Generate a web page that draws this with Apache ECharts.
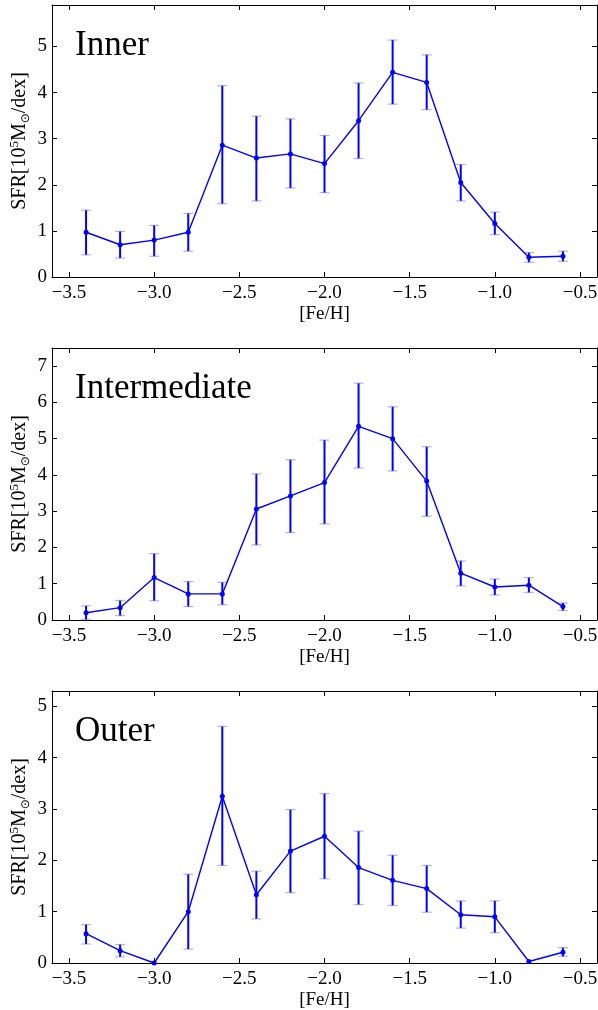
<!DOCTYPE html>
<html>
<head>
<meta charset="utf-8">
<script src="https://cdn.jsdelivr.net/npm/echarts@6/dist/echarts.min.js"></script>
<style>
    html, body { margin: 0; padding: 0; background: #fff; }
    #chart1 { width: 598px; height: 1010px; }
</style>
</head>
<body>
<div id="chart1"></div>
<script>
// [Fe/H] bins
const feh = [-3.4, -3.2, -3.0, -2.8, -2.6, -2.4, -2.2, -2.0, -1.8, -1.6, -1.4, -1.2, -1.0, -0.8, -0.6]
const xTicks = [-3.5, -3.0, -2.5, -2.0, -1.5, -1.0, -0.5]

// Inner
const innerSFR = [0.97, 0.70, 0.80, 0.97, 2.86, 2.58, 2.67, 2.46, 3.39, 4.44, 4.22, 2.05, 1.16, 0.43, 0.45]
const innerLow = [0.48, 0.41, 0.45, 0.56, 1.59, 1.65, 1.93, 1.83, 2.57, 3.75, 3.63, 1.65, 0.92, 0.32, 0.34]
const innerHigh = [1.45, 0.99, 1.12, 1.38, 4.15, 3.49, 3.43, 3.07, 4.21, 5.14, 4.82, 2.44, 1.41, 0.53, 0.56]
const innerTicks = [0, 1, 2, 3, 4, 5]

// Intermediate
const intermSFR = [0.20, 0.34, 1.17, 0.72, 0.72, 3.06, 3.42, 3.79, 5.34, 5.00, 3.83, 1.29, 0.91, 0.96, 0.37]
const intermLow = [0.01, 0.12, 0.53, 0.37, 0.42, 2.07, 2.41, 2.65, 4.19, 4.11, 2.86, 0.94, 0.69, 0.76, 0.26]
const intermHigh = [0.39, 0.54, 1.83, 1.06, 1.04, 4.03, 4.42, 4.96, 6.53, 5.88, 4.78, 1.63, 1.13, 1.17, 0.47]
const intermTicks = [0, 1, 2, 3, 4, 5, 6, 7]

// Outer
const outerSFR = [0.57, 0.24, 0.00, 1.00, 3.25, 1.33, 2.18, 2.47, 1.86, 1.61, 1.45, 0.94, 0.90, 0.03, 0.21]
const outerLow = [0.37, 0.12, 0.00, 0.27, 1.90, 0.86, 1.37, 1.64, 1.14, 1.12, 0.99, 0.68, 0.59, 0.03, 0.13]
const outerHigh = [0.75, 0.36, 0.00, 1.73, 4.61, 1.79, 2.99, 3.30, 2.57, 2.10, 1.90, 1.21, 1.21, 0.03, 0.30]
const outerTicks = [0, 1, 2, 3, 4, 5]

const panels = [
    { name: 'Inner', sfr: innerSFR, low: innerLow, high: innerHigh, ticks: innerTicks, ymax: 5.9, top: 5 },
    { name: 'Intermediate', sfr: intermSFR, low: intermLow, high: intermHigh, ticks: intermTicks, ymax: 7.5, top: 348 },
    { name: 'Outer', sfr: outerSFR, low: outerLow, high: outerHigh, ticks: outerTicks, ymax: 5.3, top: 691 }
]

const fontFamily = 'Liberation Serif'
const blue = '#0000ff'
const capColor = 'rgba(80,80,255,0.45)'

let chart1 = echarts.init(document.getElementById('chart1'))

function minus (v) {
    return String(v).replace('-', '\u2212')
}

let grid = []
let xAxis = []
let yAxis = []
let series = []
let title = []

panels.forEach((p, k) => {
    grid.push({ left: 52, right: 1, top: p.top, height: 272, containLabel: false, outerBoundsMode: 'none' })

    title.push({
        text: p.name,
        left: 70,
        top: p.top + 18,
        textStyle: { fontFamily: fontFamily, fontSize: 35, fontWeight: 'normal', color: '#000' }
    })

    // bottom + top x axes (top one just for the inward ticks)
    for (let side of ['bottom', 'top']) {
        xAxis.push({
            type: 'value',
            gridIndex: k,
            position: side,
            min: -3.6,
            max: -0.4,
            name: side === 'bottom' ? '[Fe/H]' : '',
            nameLocation: 'middle',
            nameGap: 28,
            nameMoveOverlap: false,
            nameTextStyle: { fontFamily: fontFamily, fontSize: 19, color: '#000' },
            axisLine: { show: true, onZero: false, lineStyle: { color: '#000', width: 1 } },
            axisTick: { show: true, inside: true, length: 5, customValues: xTicks, lineStyle: { color: '#000' } },
            axisLabel: {
                show: side === 'bottom',
                customValues: xTicks,
                margin: 7,
                fontFamily: fontFamily,
                fontSize: 19,
                color: '#000',
                formatter: (v) => minus(v.toFixed(1))
            },
            splitLine: { show: false }
        })
    }

    for (let side of ['left', 'right']) {
        yAxis.push({
            type: 'value',
            gridIndex: k,
            position: side,
            min: 0,
            max: p.ymax,
            name: side === 'left' ? '{a|SFR[10}{sup|5}{a|M}{sub|\u2299}{a|/dex]}' : '',
            nameLocation: 'middle',
            nameRotate: 90,
            nameGap: 20,
            nameMoveOverlap: false,
            nameTextStyle: {
                color: '#000',
                rich: {
                    a: { fontFamily: fontFamily, fontSize: 20, color: '#000', lineHeight: 24 },
                    sup: { fontFamily: fontFamily, fontSize: 13, color: '#000', verticalAlign: 'top', lineHeight: 24, padding: [0, 0, 7, 0] },
                    sub: { fontFamily: 'DejaVu Sans', fontSize: 12, color: '#000', verticalAlign: 'bottom', lineHeight: 24, padding: [5, 0, 0, 0] }
                }
            },
            axisLine: { show: true, onZero: false, lineStyle: { color: '#000', width: 1 } },
            axisTick: { show: true, inside: true, length: 5, customValues: p.ticks, lineStyle: { color: '#000' } },
            axisLabel: {
                show: side === 'left',
                customValues: p.ticks,
                margin: 5,
                fontFamily: fontFamily,
                fontSize: 19,
                color: '#000'
            },
            splitLine: { show: false }
        })
    }

    // error bars
    series.push({
        type: 'custom',
        xAxisIndex: 2 * k,
        yAxisIndex: 2 * k,
        clip: false,
        z: 2,
        data: feh.map((x, i) => [x, p.low[i], p.high[i]]),
        renderItem: function (params, api) {
            let lo = api.value(1)
            let hi = api.value(2)
            if (hi - lo < 0.01) { // 没有误差的点
                return null
            }
            let pLo = api.coord([api.value(0), lo])
            let pHi = api.coord([api.value(0), hi])
            let cx = pLo[0]
            return {
                type: 'group',
                children: [
                    { type: 'line', shape: { x1: cx, y1: pLo[1], x2: cx, y2: pHi[1] }, style: { stroke: blue, lineWidth: 2 } },
                    { type: 'line', shape: { x1: cx - 5, y1: pLo[1], x2: cx + 5, y2: pLo[1] }, style: { stroke: capColor, lineWidth: 1.2 } },
                    { type: 'line', shape: { x1: cx - 5, y1: pHi[1], x2: cx + 5, y2: pHi[1] }, style: { stroke: capColor, lineWidth: 1.2 } }
                ]
            }
        }
    })

    // 折线
    series.push({
        type: 'line',
        xAxisIndex: 2 * k,
        yAxisIndex: 2 * k,
        z: 3,
        symbol: 'circle',
        symbolSize: 5,
        showAllSymbol: true,
        itemStyle: { color: blue },
        lineStyle: { color: blue, width: 1.4 },
        data: feh.map((x, i) => [x, p.sfr[i]])
    })
})

let option = {
    animation: false,
    backgroundColor: '#fff',
    title: title,
    grid: grid,
    xAxis: xAxis,
    yAxis: yAxis,
    series: series
}
chart1.setOption(option)
</script>
</body>
</html>
